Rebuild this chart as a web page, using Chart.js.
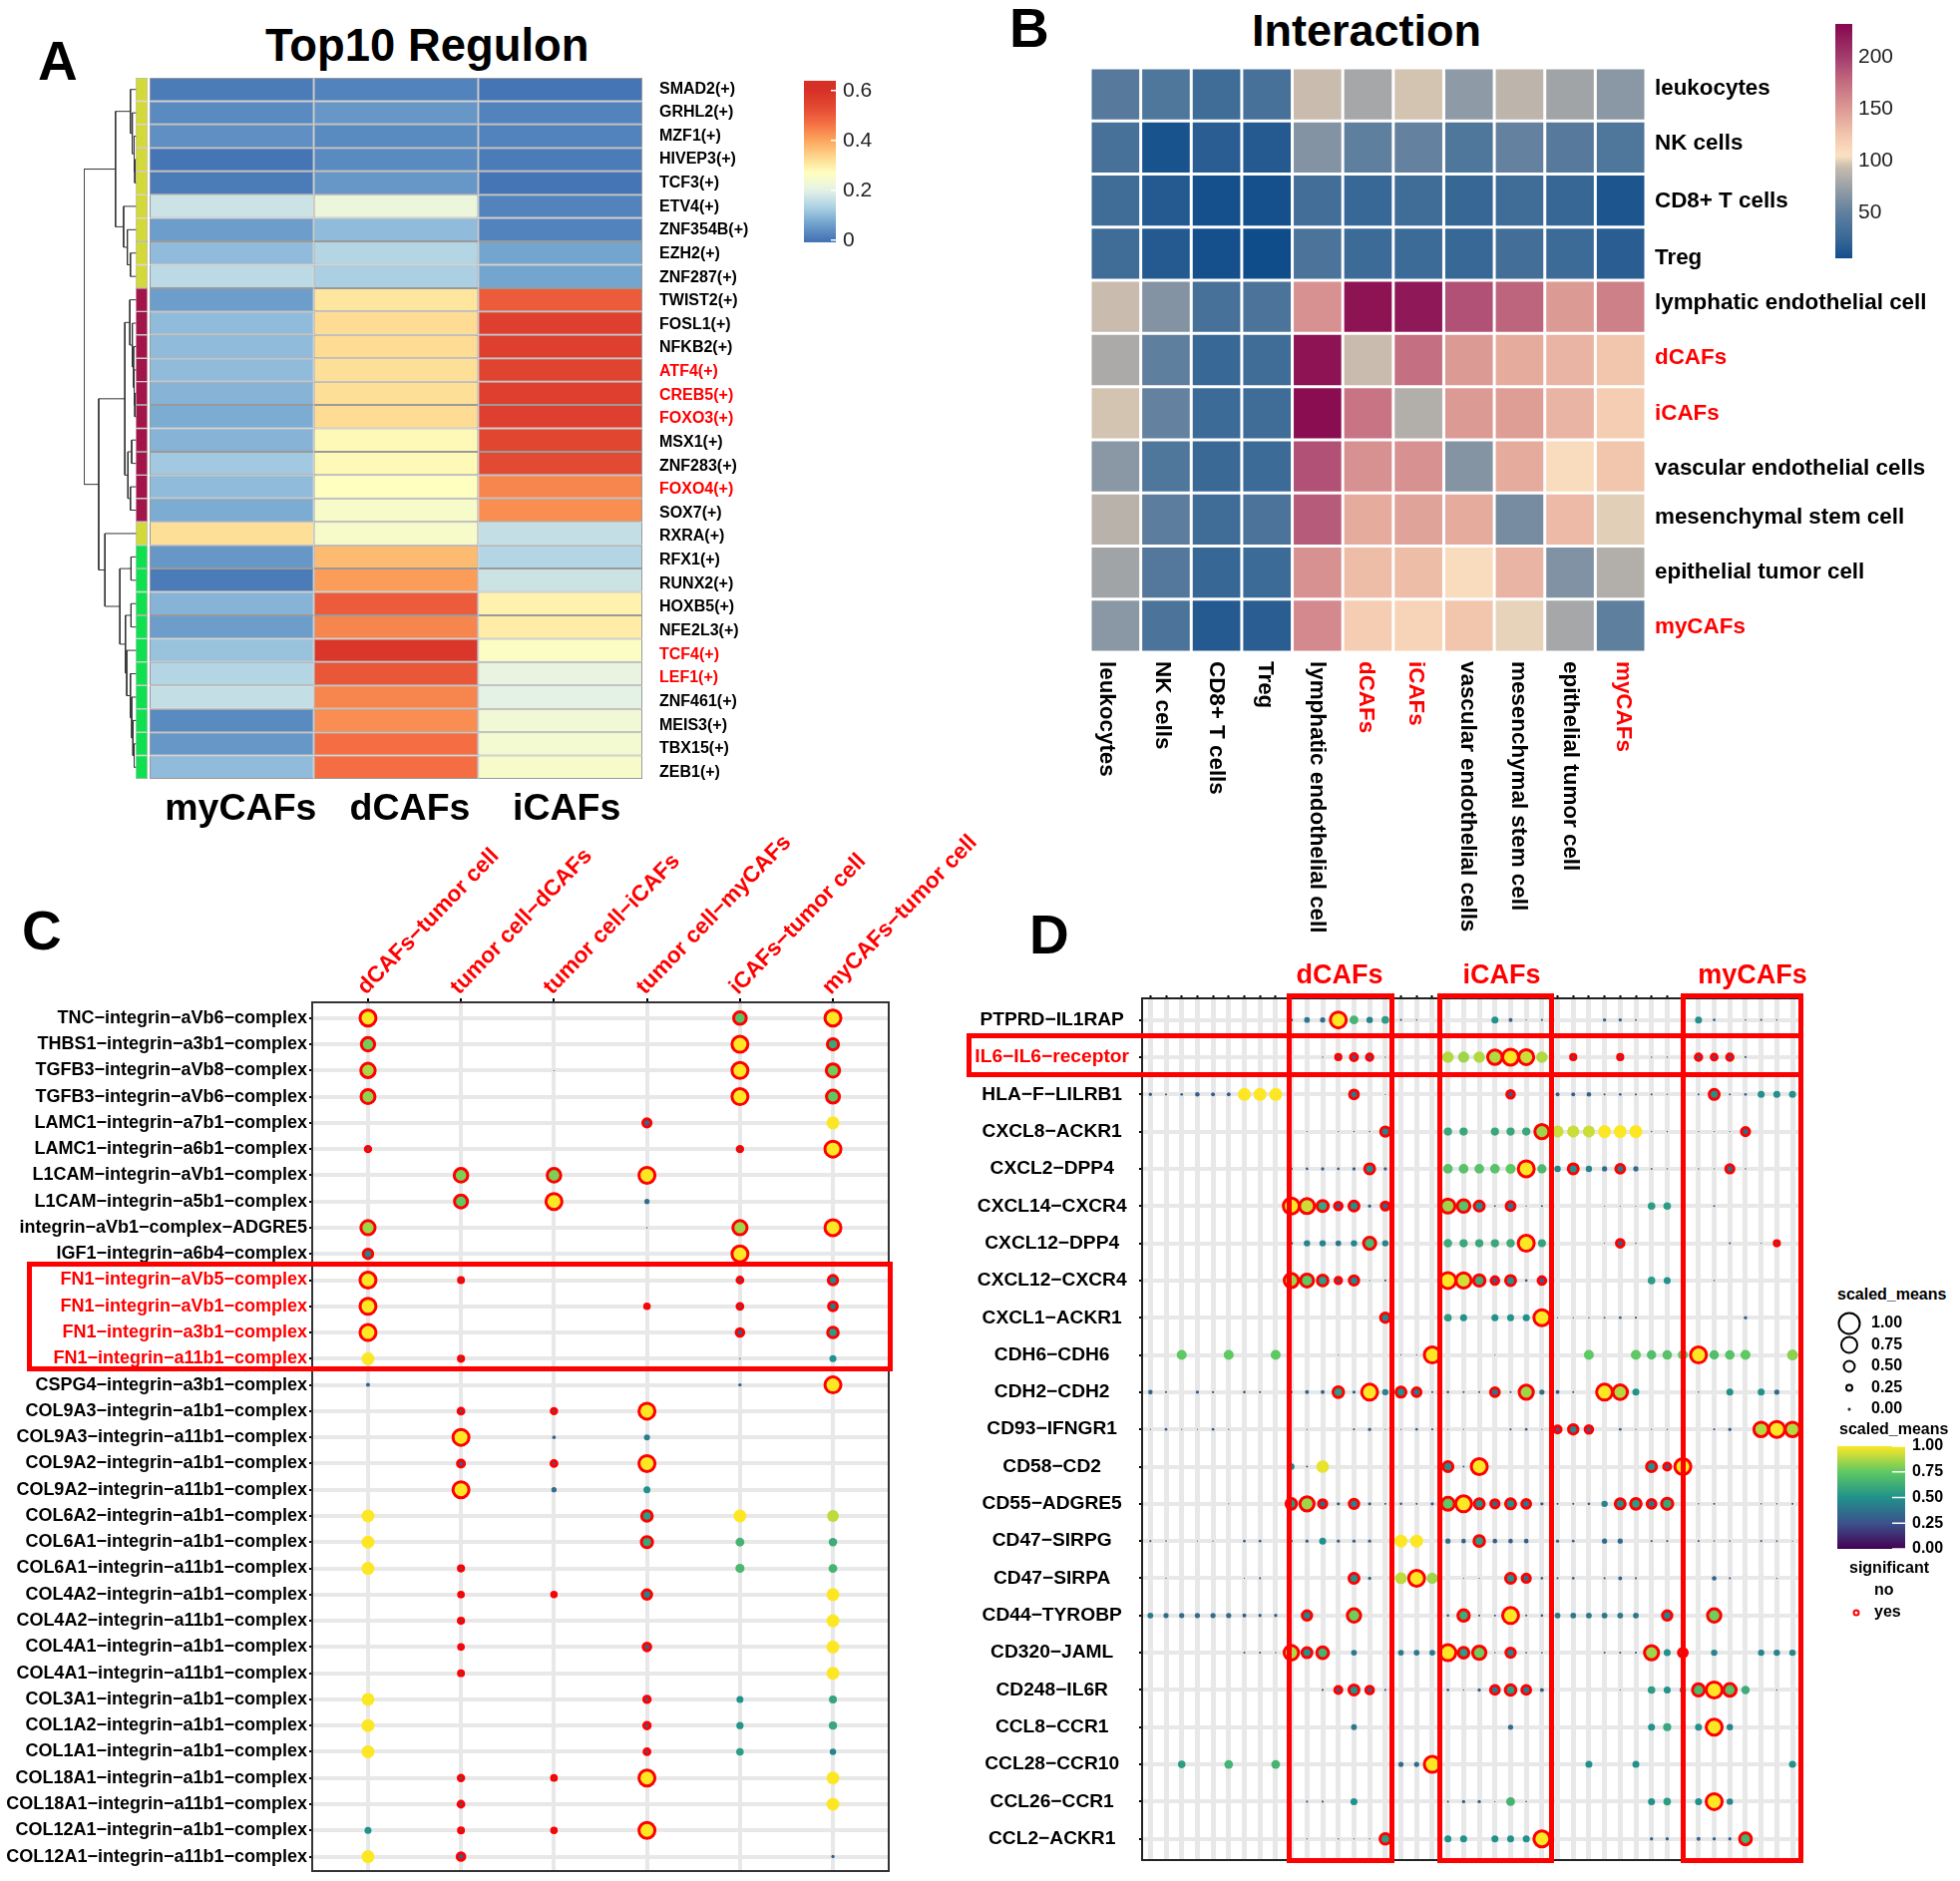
<!DOCTYPE html>
<html><head><meta charset="utf-8">
<script src="https://cdn.jsdelivr.net/npm/chart.js@4"></script>
<style>
html,body{margin:0;padding:0;background:#fff}
#page{position:relative;width:1965px;height:1886px;overflow:hidden;background:#fff;font-family:"Liberation Sans",Arial,sans-serif}
#page canvas{position:absolute}
.t{position:absolute;white-space:nowrap;line-height:1;font-weight:bold;color:#000}
.box{position:absolute;border:5.5px solid #f00;box-sizing:border-box}
</style></head><body><div id="page"></div>
<script>
/* ---------- Panel A data ---------- */
const regulons = ["SMAD2(+)","GRHL2(+)","MZF1(+)","HIVEP3(+)","TCF3(+)","ETV4(+)","ZNF354B(+)","EZH2(+)","ZNF287(+)","TWIST2(+)","FOSL1(+)","NFKB2(+)","ATF4(+)","CREB5(+)","FOXO3(+)","MSX1(+)","ZNF283(+)","FOXO4(+)","SOX7(+)","RXRA(+)","RFX1(+)","RUNX2(+)","HOXB5(+)","NFE2L3(+)","TCF4(+)","LEF1(+)","ZNF461(+)","MEIS3(+)","TBX15(+)","ZEB1(+)"];
const regulonRed = ["ATF4(+)","CREB5(+)","FOXO3(+)","FOXO4(+)","TCF4(+)","LEF1(+)"];
const regulonCols = ["myCAFs","dCAFs","iCAFs"];
const regulonValues = [[.01,.02,0],[.03,.05,.02],[.04,.03,.02],[0,.03,.01],[.01,.05,0],[.17,.22,.02],[.06,.1,.02],[.1,.14,.07],[.15,.13,.07],[.06,.31,.5],[.1,.325,.56],[.1,.325,.56],[.1,.32,.55],[.09,.32,.56],[.08,.325,.56],[.09,.28,.54],[.12,.28,.53],[.1,.27,.44],[.08,.25,.43],[.32,.25,.16],[.05,.37,.14],[.01,.41,.17],[.09,.5,.29],[.06,.44,.3],[.11,.58,.26],[.14,.51,.21],[.16,.44,.2],[.03,.43,.23],[.05,.47,.24],[.1,.47,.25]];
const regulonGroups = ["a","a","a","a","a","a","a","a","a","b","b","b","b","b","b","b","b","b","b","a","c","c","c","c","c","c","c","c","c","c"];
const regulonTree = [85,[34,[10,0,[7,1,[4,2,[3,3,4]]]],[21,5,[15,6,[10,7,8]]]],[61,[19,[11,9,[7,10,[5,11,[4,12,[3,13,14]]]]],[14,[8,15,16],[10,17,18]]],[51,19,[27,[9,20,21],[18,[9,22,23],[16,24,[10,25,[8,26,[6,27,[4,28,29]]]]]]]]]];
const regulonTicks = [0,.2,.4,.6];

/* ---------- Panel B data ---------- */
const cellTypes = ["leukocytes","NK cells","CD8+ T cells","Treg","lymphatic endothelial cell","dCAFs","iCAFs","vascular endothelial cells","mesenchymal stem cell","epithelial tumor cell","myCAFs"];
const cellRed = ["dCAFs","iCAFs","myCAFs"];
const interactionValues = [
[45,40,30,35,95,80,97,70,90,78,68],
[35,10,18,15,65,50,52,40,52,45,40],
[30,15,8,8,32,25,30,24,30,24,12],
[30,15,8,5,38,28,28,25,32,28,18],
[95,65,35,38,155,225,222,190,180,150,165],
[82,50,25,30,225,95,175,150,140,135,125],
[97,52,28,30,228,172,85,150,148,135,120],
[68,40,26,28,190,155,155,66,140,110,125],
[88,48,30,38,185,140,145,140,60,132,100],
[78,42,24,28,155,130,130,110,135,64,85],
[68,38,15,18,160,120,115,125,101,80,50]];
const interactionTicks = [50,100,150,200];

/* ---------- Panel C data: per row, [column, scaled mean, significant] ---------- */
const cCols = ["dCAFs−tumor cell","tumor cell−dCAFs","tumor cell−iCAFs","tumor cell−myCAFs","iCAFs−tumor cell","myCAFs−tumor cell"];
const cRows = ["TNC−integrin−aVb6−complex","THBS1−integrin−a3b1−complex","TGFB3−integrin−aVb8−complex","TGFB3−integrin−aVb6−complex","LAMC1−integrin−a7b1−complex","LAMC1−integrin−a6b1−complex","L1CAM−integrin−aVb1−complex","L1CAM−integrin−a5b1−complex","integrin−aVb1−complex−ADGRE5","IGF1−integrin−a6b4−complex","FN1−integrin−aVb5−complex","FN1−integrin−aVb1−complex","FN1−integrin−a3b1−complex","FN1−integrin−a11b1−complex","CSPG4−integrin−a3b1−complex","COL9A3−integrin−a1b1−complex","COL9A3−integrin−a11b1−complex","COL9A2−integrin−a1b1−complex","COL9A2−integrin−a11b1−complex","COL6A2−integrin−a1b1−complex","COL6A1−integrin−a1b1−complex","COL6A1−integrin−a11b1−complex","COL4A2−integrin−a1b1−complex","COL4A2−integrin−a11b1−complex","COL4A1−integrin−a1b1−complex","COL4A1−integrin−a11b1−complex","COL3A1−integrin−a1b1−complex","COL1A2−integrin−a1b1−complex","COL1A1−integrin−a1b1−complex","COL18A1−integrin−a1b1−complex","COL18A1−integrin−a11b1−complex","COL12A1−integrin−a1b1−complex","COL12A1−integrin−a11b1−complex"];
const cDots = [
[[0,1,1],[4,.72,1],[5,1,1]],
[[0,.78,1],[4,1,1],[5,.6,1]],
[[0,.87,1],[2,.02,0],[4,1,1],[5,.78,1]],
[[0,.83,1],[4,1,1],[5,.75,1]],
[[3,.35,1],[5,1,0]],
[[0,.12,1],[4,.12,1],[5,1,1]],
[[1,.8,1],[2,.8,1],[3,1,1]],
[[1,.75,1],[2,1,1],[3,.35,0]],
[[0,.85,1],[3,.05,0],[4,.85,1],[5,1,1]],
[[0,.45,1],[4,1,1]],
[[0,1,1],[1,.08,1],[4,.15,1],[5,.45,1]],
[[0,1,1],[3,.05,1],[4,.15,1],[5,.4,1]],
[[0,1,1],[4,.3,1],[5,.55,1]],
[[0,1,0],[1,.1,1],[4,.05,0],[5,.5,0]],
[[0,.25,0],[4,.2,0],[5,1,1]],
[[1,.15,1],[2,.12,1],[3,1,1]],
[[1,1,1],[2,.22,0],[3,.42,0]],
[[1,.25,1],[2,.15,1],[3,1,1]],
[[1,1,1],[2,.35,0],[3,.5,0]],
[[0,1,0],[3,.55,1],[4,1,0],[5,.9,0]],
[[0,1,0],[3,.6,1],[4,.65,0],[5,.62,0]],
[[0,1,0],[1,.1,1],[4,.68,0],[5,.65,0]],
[[1,.06,1],[2,.04,1],[3,.45,1],[5,1,0]],
[[1,.1,1],[5,1,0]],
[[1,.06,1],[3,.3,1],[5,1,0]],
[[1,.08,1],[5,1,0]],
[[0,1,0],[3,.2,1],[4,.5,0],[5,.58,0]],
[[0,1,0],[3,.2,1],[4,.52,0],[5,.6,0]],
[[0,1,0],[3,.15,1],[4,.55,0],[5,.45,0]],
[[1,.12,1],[2,.06,1],[3,1,1],[5,1,0]],
[[1,.15,1],[5,1,0]],
[[0,.5,0],[1,.08,1],[2,.05,1],[3,1,1]],
[[0,1,0],[1,.3,1],[5,.2,0]]];

/* ---------- Panel D data: per row, [column, scaled mean, significant] ---------- */
const dRows = ["PTPRD−IL1RAP","IL6−IL6−receptor","HLA−F−LILRB1","CXCL8−ACKR1","CXCL2−DPP4","CXCL14−CXCR4","CXCL12−DPP4","CXCL12−CXCR4","CXCL1−ACKR1","CDH6−CDH6","CDH2−CDH2","CD93−IFNGR1","CD58−CD2","CD55−ADGRE5","CD47−SIRPG","CD47−SIRPA","CD44−TYROBP","CD320−JAML","CD248−IL6R","CCL8−CCR1","CCL28−CCR10","CCL26−CCR1","CCL2−ACKR1"];
const dColumnCount = 42;
const dDots = [
[[9,.2,0],[10,.4,0],[11,.35,0],[12,1,1],[13,.65,0],[14,.45,0],[15,.55,0],[16,.1,0],[17,.05,0],[22,.5,0],[23,.25,0],[24,.03,0],[25,.1,0],[29,.2,0],[30,.2,0],[31,.08,0],[35,.5,0],[36,.15,0],[38,.05,0],[39,.1,0],[40,.05,0]],
[[11,.05,0],[12,.1,1],[13,.25,1],[14,.2,1],[15,.03,0],[19,.88,0],[20,.85,0],[21,.88,0],[22,.88,1],[23,1,1],[24,.92,1],[25,.88,0],[27,.1,1],[30,.1,1],[32,.05,0],[33,.05,0],[35,.2,1],[36,.15,1],[37,.2,1],[38,.1,0]],
[[0,.2,0],[1,.1,0],[2,.15,0],[3,.3,0],[4,.25,0],[5,.25,0],[6,1,0],[7,1,0],[8,1,0],[13,.4,1],[15,.02,0],[23,.3,1],[26,.25,0],[27,.25,0],[28,.3,0],[29,.1,0],[30,.15,0],[31,.1,0],[32,.1,0],[33,.05,0],[35,.1,0],[36,.5,1],[37,.1,0],[38,.15,0],[39,.5,0],[40,.5,0],[41,.5,0]],
[[10,.03,0],[12,.03,0],[13,.05,0],[14,.05,0],[15,.45,1],[19,.6,0],[20,.6,0],[22,.6,0],[23,.6,0],[24,.6,0],[25,.85,1],[26,.92,0],[27,.92,0],[28,.92,0],[29,1,0],[30,1,0],[31,1,0],[32,.05,0],[33,.05,0],[35,.03,0],[36,.03,0],[37,.03,0],[38,.35,1]],
[[9,.15,0],[10,.15,0],[11,.2,0],[12,.15,0],[13,.2,0],[14,.5,1],[15,.2,0],[19,.72,0],[20,.72,0],[21,.72,0],[22,.72,0],[23,.75,0],[24,1,1],[25,.68,0],[26,.45,0],[27,.5,1],[28,.45,0],[29,.35,0],[30,.4,1],[31,.35,0],[32,.08,0],[33,.05,0],[35,.05,0],[36,.03,0],[37,.35,1],[38,.05,0]],
[[9,1,1],[10,.92,1],[11,.6,1],[12,.3,1],[13,.5,1],[14,.2,0],[15,.35,1],[19,.85,1],[20,.72,1],[21,.5,1],[22,.08,0],[23,.4,1],[24,.03,0],[25,.1,0],[29,.02,0],[30,.02,0],[31,.02,0],[32,.55,0],[33,.55,0],[36,.1,0]],
[[9,.2,0],[10,.45,0],[11,.45,0],[12,.4,0],[13,.45,0],[14,.68,1],[15,.45,0],[19,.62,0],[20,.6,0],[21,.6,0],[22,.6,0],[23,.62,0],[24,1,1],[25,.58,0],[29,.03,0],[30,.3,1],[31,.05,0],[37,.1,0],[39,.03,0],[40,.1,1]],
[[9,.85,1],[10,.75,1],[11,.55,1],[12,.2,1],[13,.45,1],[14,.03,0],[15,.1,0],[19,1,1],[20,.93,1],[21,.62,1],[22,.3,1],[23,.5,1],[24,.15,0],[25,.3,1],[32,.55,0],[33,.5,0],[36,.05,0]],
[[15,.45,1],[19,.55,0],[20,.5,0],[22,.5,0],[23,.5,0],[24,.5,0],[25,1,1],[26,.03,0],[27,.03,0],[28,.05,0],[29,.08,0],[30,.15,0],[31,.1,0],[38,.2,0]],
[[2,.75,0],[5,.75,0],[8,.75,0],[12,.02,0],[16,.03,0],[17,.03,0],[18,1,1],[22,.02,0],[28,.75,0],[31,.75,0],[32,.7,0],[33,.72,0],[34,.75,0],[35,1,1],[36,.7,0],[37,.72,0],[38,.75,0],[41,.82,0]],
[[0,.3,0],[1,.1,0],[3,.2,0],[4,.12,0],[6,.15,0],[7,.1,0],[9,.15,0],[10,.25,0],[11,.25,0],[12,.55,1],[13,.2,0],[14,1,1],[15,.45,0],[16,.5,1],[17,.4,1],[18,.1,0],[19,.15,0],[20,.1,0],[21,.1,0],[22,.4,1],[23,.1,0],[24,.85,1],[25,.35,0],[26,.25,0],[27,.1,0],[29,1,1],[30,.88,1],[31,.5,0],[35,.05,0],[37,.5,0],[39,.5,0],[40,.35,0]],
[[0,.03,0],[1,.15,0],[2,.03,0],[3,.02,0],[4,.15,0],[5,.03,0],[10,.03,0],[13,.1,0],[14,.2,0],[15,.02,0],[16,.03,0],[17,.15,0],[18,.1,0],[19,.02,0],[20,.03,0],[23,.1,0],[24,.15,0],[25,.03,0],[26,.25,1],[27,.45,1],[28,.3,1],[30,.15,0],[31,.03,0],[32,.03,0],[33,.05,0],[36,.1,0],[37,.2,0],[39,.88,1],[40,1,1],[41,.88,1]],
[[9,.45,0],[10,.1,0],[11,.97,0],[19,.5,1],[20,.1,0],[21,1,1],[32,.5,1],[33,.25,1],[34,1,1]],
[[5,.02,0],[9,.55,1],[10,.85,1],[11,.35,1],[12,.2,0],[13,.45,1],[14,.2,0],[15,.1,0],[16,.15,0],[17,.1,0],[18,.2,0],[19,.75,1],[20,1,1],[21,.5,1],[22,.35,1],[23,.5,1],[24,.4,1],[25,.2,0],[26,.1,0],[27,.1,0],[28,.15,0],[29,.45,0],[30,.5,1],[31,.55,1],[32,.4,1],[33,.6,1],[35,.05,0],[36,.1,0],[39,.05,0],[40,.05,0],[41,.1,0]],
[[0,.1,0],[1,.05,0],[3,.02,0],[4,.03,0],[6,.15,0],[7,.15,0],[9,.15,0],[10,.2,0],[11,.5,0],[12,.2,0],[13,.2,0],[14,.2,0],[16,1,0],[17,1,0],[19,.35,0],[20,.3,0],[21,.55,1],[22,.3,0],[23,.3,0],[24,.3,0],[26,.2,0],[27,.15,0],[29,.35,0],[30,.35,0],[32,.1,0],[33,.1,0],[35,.1,0],[36,.05,0],[37,.05,0],[39,.1,0],[40,.08,0],[41,.03,0]],
[[1,.02,0],[6,.02,0],[7,.1,0],[13,.5,1],[14,.2,0],[16,.9,0],[17,1,1],[18,.85,0],[20,.02,0],[21,.02,0],[23,.5,1],[24,.35,1],[25,.15,0],[26,.1,0],[27,.15,0],[29,.1,0],[30,.25,0],[31,.1,0],[36,.3,0],[37,.1,0],[40,.03,0]],
[[0,.4,0],[1,.35,0],[2,.35,0],[3,.35,0],[4,.35,0],[5,.35,0],[6,.25,0],[7,.2,0],[8,.2,0],[10,.45,1],[13,.78,1],[19,.15,0],[20,.62,1],[21,.1,0],[22,.1,0],[23,1,1],[24,.1,0],[25,.15,0],[26,.4,0],[27,.4,0],[28,.4,0],[29,.4,0],[30,.4,0],[31,.4,0],[33,.45,1],[36,.78,1]],
[[6,.1,0],[7,.1,0],[8,.05,0],[9,.88,1],[10,.5,1],[11,.65,1],[13,.4,0],[16,.4,0],[17,.4,0],[18,.4,0],[19,1,1],[20,.55,1],[21,.78,1],[22,.05,0],[23,.45,1],[24,.08,0],[25,.08,0],[29,.1,0],[30,.1,0],[31,.1,0],[32,.85,1],[33,.5,0],[34,.4,1],[36,.45,0],[39,.45,0],[40,.45,0],[41,.45,0]],
[[11,.1,0],[12,.25,1],[13,.5,1],[14,.3,1],[15,.1,0],[19,.15,0],[20,.05,0],[21,.2,0],[22,.4,1],[23,.55,1],[24,.4,1],[25,.25,0],[30,.02,0],[32,.55,0],[33,.5,0],[34,.45,0],[35,.68,1],[36,1,1],[37,.72,1],[38,.62,0],[40,.05,0]],
[[13,.4,0],[23,.35,0],[32,.5,0],[33,.6,0],[34,.3,0],[35,.5,0],[36,1,1],[37,.45,0]],
[[2,.55,0],[5,.65,0],[8,.65,0],[16,.35,0],[17,.35,0],[18,1,1],[28,.5,0],[31,.5,0],[41,.5,0]],
[[10,.1,0],[11,.1,0],[13,.5,0],[19,.1,0],[20,.2,0],[21,.2,0],[22,.02,0],[23,.65,0],[24,.05,0],[32,.5,0],[33,.55,0],[34,.3,0],[35,.5,0],[36,1,1],[37,.45,0]],
[[10,.03,0],[12,.05,0],[13,.03,0],[14,.03,0],[15,.55,1],[19,.5,0],[20,.5,0],[22,.5,0],[23,.5,0],[24,.5,0],[25,1,1],[32,.2,0],[33,.2,0],[35,.25,0],[36,.2,0],[37,.2,0],[38,.65,1]]];

/* ---------- Legend data ---------- */
const sizeLegendValues = [1,.75,.5,.25,0];
const colorLegendTicks = [0,.25,.5,.75,1];
const significantLabels = ["no","yes"];

/* ---------- Label placement (hand-set label shifts of the original figure, in pixels) ---------- */
const regulonColShift = [9,14,6.5];
const cellColShift = [-9.5,-3.4,0,-1.6,-1,-2,-3.3,-2,-1,0,2];
const cellRowShift = [-6,-4,1,4,-4,-2,1,2,-2,0,1];

/* ---------- Colour scales ---------- */
function hex(c){return [parseInt(c.slice(1,3),16),parseInt(c.slice(3,5),16),parseInt(c.slice(5,7),16)];}
function ramp(stops){return v=>{
  if(v<=stops[0][0])return stops[0][1];
  for(let i=1;i<stops.length;i++){ if(v<=stops[i][0]){
    const [a,ca]=stops[i-1],[b,cb]=stops[i],t=(v-a)/(b-a),A=hex(ca),B=hex(cb);
    return `rgb(${A.map((x,k)=>Math.round(x+(B[k]-x)*t)).join(',')})`; } }
  return stops[stops.length-1][1];};}
const regulonColor = ramp([[0,"#4575b4"],[.07,"#74a5cf"],[.13,"#abd0e4"],[.2,"#e4f2e6"],[.27,"#ffffbf"],[.33,"#fed98f"],[.4,"#fca55d"],[.47,"#f46d43"],[.53,"#e34a33"],[.6,"#d73027"]]);
const interactionColor = ramp([[5,"#0f4c8a"],[25,"#386896"],[50,"#5f7f9e"],[80,"#a6a7a8"],[95,"#c9bcae"],[105,"#fbe2c2"],[125,"#f2c6ad"],[150,"#dc9a94"],[175,"#c56f82"],[200,"#a33d6e"],[230,"#880a50"]]);
const viridis = ramp([[0,"#440154"],[.25,"#3b528b"],[.5,"#21918c"],[.75,"#5ec962"],[1,"#fde725"]]);
const dotColor = v=>viridis(Math.max(v,.3));
const groupColor = {a:"#d3d93a",b:"#a3154a",c:"#10e050"};
const dotRadius = v=>.5+6*v;

/* ---------- Layout helpers ---------- */
const page=document.getElementById('page');
const RED='#ff0000';
Chart.defaults.font.family='"Liberation Sans",Arial,sans-serif';
Chart.defaults.animation=false;
Chart.defaults.responsive=false;
Chart.defaults.plugins.legend.display=false;
Chart.defaults.plugins.tooltip.enabled=false;
function cv(l,t,r,b){const c=document.createElement('canvas');c.width=r-l;c.height=b-t;c.style.left=l+'px';c.style.top=t+'px';page.appendChild(c);return c;}
function text(s,x,base,size,color,center){const d=document.createElement('div');d.className='t';d.textContent=s;d.style.left=x+'px';d.style.top=(base-.8465*size)+'px';d.style.fontSize=size+'px';if(color)d.style.color=color;if(center)d.style.transform='translateX(-50%)';page.appendChild(d);return d;}
function rbox(l,t,r,b){const d=document.createElement('div');d.className='box';d.style.left=l+'px';d.style.top=t+'px';d.style.width=(r-l)+'px';d.style.height=(b-t)+'px';page.appendChild(d);}
const fixH=h=>ax=>{ax.height=h;ax.paddingLeft=ax.paddingRight=0;ax.paddingTop=ax.paddingBottom=0;};
const fixW=w=>ax=>{ax.width=w;ax.paddingTop=ax.paddingBottom=0;ax.paddingLeft=ax.paddingRight=0;};
const framePlugin=(color,w)=>({id:'frame',beforeDatasetsDraw(ch){const a=ch.chartArea,c=ch.ctx;c.save();c.strokeStyle=color;c.lineWidth=w;c.strokeRect(a.left,a.top,a.right-a.left,a.bottom-a.top);c.restore();}});
const whiteTicks=(len,vals)=>({id:'wt',afterDatasetsDraw(ch){const a=ch.chartArea,c=ch.ctx,s=ch.scales.y;c.save();c.strokeStyle='#fff';c.lineWidth=1.5;vals.forEach(v=>{const y=s.getPixelForValue(v);c.beginPath();c.moveTo(a.right-len,y);c.lineTo(a.right,y);c.stroke();});c.restore();}});

/* heat map as floating bars on a linear x scale and a category y scale;
   its row labels sit on a separate linear axis, yLab */
function heat(canvas,rows,cols,values,color,border,xOpts,labOpts,pad){
  const data=[];rows.forEach((r,i)=>cols.forEach((c,j)=>data.push({x:[j,j+1],y:r,v:values[i][j]})));
  return new Chart(canvas,{type:'bar',data:{labels:rows,datasets:[{data,backgroundColor:c=>color(c.raw.v),borderColor:border.color,borderWidth:border.width,borderSkipped:false,inflateAmount:0,barPercentage:1,categoryPercentage:1}]},
   options:{indexAxis:'y',layout:{padding:pad},scales:{
    x:Object.assign({type:'linear',min:0,max:cols.length,grid:{display:false,drawTicks:false},border:{display:false}},xOpts),
    y:{type:'category',display:false},
    yLab:Object.assign({type:'linear',offset:false,position:'right',reverse:true,grid:{display:false,drawTicks:false},border:{display:false}},labOpts)}}});
}
function colorbar(l,t,r,b,min,max,ticks,color,font,fmt,canvasRight,tick){
  const c=cv(l,t-16,canvasRight,b+16);
  return new Chart(c,{type:'bar',data:{labels:[''],datasets:[{data:[[min,max]],barPercentage:1,categoryPercentage:1,inflateAmount:0,borderSkipped:false,
    backgroundColor:ctx=>{const a=ctx.chart.chartArea;if(!a)return color(min);const g=ctx.chart.ctx.createLinearGradient(0,a.bottom,0,a.top);for(let i=0;i<=60;i++){g.addColorStop(i/60,color(min+(max-min)*i/60));}return g;}}]},
   options:{layout:{padding:{top:16,bottom:16}},scales:{x:{display:false},y:{position:'right',min,max,grid:{display:false,drawTicks:false},border:{display:false},afterBuildTicks:ax=>{ax.ticks=ticks.map(v=>({value:v}));},afterFit:fixW(canvasRight-r),ticks:{autoSkip:false,padding:tick.pad,color:tick.color,font,callback:fmt}}}},
   plugins:[whiteTicks(tick.len,ticks)]});
}
function dotData(rowsDots){const out=[];rowsDots.forEach((row,i)=>row.forEach(([col,v,s])=>out.push({x:col,y:i,r:dotRadius(v)+(s?1.5:0),v,s})));return out;}
const dotStyle={backgroundColor:c=>dotColor(c.raw.v),borderColor:c=>c.raw.s?RED:'rgba(0,0,0,0)',borderWidth:c=>c.raw.s?3:0,hoverBorderWidth:0};

/* ---------- Panel A ---------- */
text('A',38,81,55);
text('Top10 Regulon',266,61.5,45.4);
{ // dendrogram
  const pts=[];
  const walk=n=>{ if(typeof n==='number')return {y:n,h:0};
    const A=walk(n[1]),B=walk(n[2]);
    pts.push({x:A.h,y:A.y},{x:n[0],y:A.y},{x:n[0],y:B.y},{x:B.h,y:B.y},{x:NaN,y:NaN});
    return {y:(A.y+B.y)/2,h:n[0]};};
  walk(regulonTree);
  new Chart(cv(84,78,137,781),{type:'scatter',data:{datasets:[{data:pts,showLine:true,spanGaps:false,borderColor:'#333',borderWidth:1,pointRadius:0,clip:false}]},
   options:{scales:{x:{display:false,reverse:true,min:0,max:85},y:{display:false,reverse:true,min:-.5,max:29.5}}}});
  // annotation strip
  new Chart(cv(136,78,148,781),{type:'bar',data:{labels:regulons,datasets:[{data:regulons.map((r,i)=>({x:[0,1],y:r,g:regulonGroups[i]})),backgroundColor:c=>groupColor[c.raw.g],borderColor:'#a8a8a8',borderWidth:.7,borderSkipped:false,inflateAmount:0,barPercentage:1,categoryPercentage:1}]},
   options:{indexAxis:'y',scales:{x:{display:false,min:0,max:1},y:{display:false}}}});
}
heat(cv(150,62,830,840),regulons,regulonCols,regulonValues,regulonColor,{color:'#9a9a9a',width:1},
 {position:'bottom',afterFit:fixH(840-781),afterBuildTicks:ax=>{ax.ticks=regulonCols.map((c,j)=>({value:j+.5+regulonColShift[j]/164.5}));},
  ticks:{padding:8,color:'#000',font:{size:37.5,weight:'bold'},maxRotation:0,minRotation:0,autoSkip:false,callback:(v,i)=>regulonCols[i]}},
 {min:-.47,max:29.28,afterFit:fixW(830-644),afterBuildTicks:ax=>{ax.ticks=regulons.map((r,i)=>({value:i}));},
  ticks:{autoSkip:false,padding:17,font:{size:16,weight:'bold'},color:c=>regulonRed.includes(c.tick.label)?RED:'#000',callback:(v,i)=>regulons[i]}},
 {top:16});
colorbar(806,81,838,243,-.009,.639,regulonTicks,regulonColor,{size:21},v=>String(v),885,{pad:7,color:'#222',len:5});

/* ---------- Panel B ---------- */
text('B',1012,48,55);
text('Interaction',1255,46,45);
heat(cv(1093,52,1965,960),cellTypes,cellTypes,interactionValues,interactionColor,{color:'#fff',width:1.5},
 {position:'bottom',afterFit:fixH(960-654),beforeUpdate:ax=>{ax._getXAxisLabelAlignment=()=>'left';},afterBuildTicks:ax=>{ax.ticks=cellTypes.map((c,j)=>({value:j+.5+cellColShift[j]/50.6}));},
  ticks:{minRotation:-90,maxRotation:-90,autoSkip:false,padding:9,font:{size:22.4,weight:'bold'},color:c=>cellRed.includes(c.tick.label)?RED:'#000',callback:(v,i)=>cellTypes[i]}},
 {min:-.5,max:10.5,afterFit:fixW(1965-1650),afterBuildTicks:ax=>{ax.ticks=cellTypes.map((c,i)=>({value:i+cellRowShift[i]/53.3}));},
  ticks:{autoSkip:false,padding:9,font:{size:22.4,weight:'bold'},color:c=>cellRed.includes(c.tick.label)?RED:'#000',callback:(v,i)=>cellTypes[i]}},
 {top:16});
colorbar(1840,24,1857,259,6.4,232.4,interactionTicks,interactionColor,{size:21},v=>String(v),1925,{pad:6,color:'#222',len:0});

/* ---------- Panel C ---------- */
text('C',22,953,55);
new Chart(cv(0,780,1010,1892),{type:'bubble',data:{datasets:[Object.assign({data:dotData(cDots)},dotStyle)]},
 options:{layout:{padding:{right:1010-891,bottom:16}},scales:{
  x:{type:'linear',position:'top',min:-.6,max:5.6,afterBuildTicks:ax=>{ax.ticks=cCols.map((c,j)=>({value:j}));},afterFit:fixH(1005-780),
     grid:{color:'#e8e8e8',lineWidth:4,tickColor:'#000',tickWidth:2,tickLength:4},border:{display:false},
     ticks:{minRotation:46,maxRotation:46,autoSkip:false,padding:-2,labelOffset:13,font:{size:22.5,weight:'bold'},color:RED,callback:v=>cCols[v]}},
  y:{type:'linear',reverse:true,min:-.6,max:32.55,afterBuildTicks:ax=>{ax.ticks=cRows.map((c,j)=>({value:j}));},afterFit:fixW(313),
     grid:{color:'#e8e8e8',lineWidth:4,tickColor:'#000',tickWidth:2,tickLength:3},border:{display:false},
     ticks:{autoSkip:false,padding:2,font:{size:18,weight:'bold'},color:c=>String(c.tick.label).startsWith('FN1')?RED:'#000',callback:v=>cRows[v]}}}},
 plugins:[framePlugin('#333',2)]});
rbox(27,1265,895,1375);

/* ---------- Panel D ---------- */
text('D',1032,957,55);
new Chart(cv(960,990,1822,1881),{type:'bubble',data:{datasets:[Object.assign({data:dotData(dDots)},dotStyle)]},
 options:{layout:{padding:{right:16,bottom:16}},scales:{
  x:{type:'linear',position:'top',min:-.53,max:41.57,afterBuildTicks:ax=>{ax.ticks=Array.from({length:dColumnCount},(c,j)=>({value:j}));},afterFit:fixH(10),
     grid:{color:'#e8e8e8',lineWidth:5,tickColor:'#000',tickWidth:2,tickLength:3},border:{display:false},ticks:{display:false,autoSkip:false}},
  y:{type:'linear',reverse:true,min:-.58,max:22.57,afterBuildTicks:ax=>{ax.ticks=dRows.map((c,j)=>({value:j}));},afterFit:fixW(1145-960),
     grid:{color:'#e8e8e8',lineWidth:4,tickColor:'#000',tickWidth:2,tickLength:3},border:{display:false},
     ticks:{autoSkip:false,crossAlign:'center',padding:10,font:{size:19.2,weight:'bold'},color:c=>String(c.tick.label).startsWith('IL6')?RED:'#000',callback:v=>dRows[v]}}}},
 plugins:[framePlugin('#222',2)]});
rbox(1290,996,1398,1868);
rbox(1441,996,1558,1868);
rbox(1685,996,1808,1868);
rbox(969,1036,1808,1080);
text('dCAFs',1343,987,27,RED,true);
text('iCAFs',1505.5,987,27,RED,true);
text('myCAFs',1757,987,27,RED,true);

/* ---------- Panel D legends ---------- */
text('scaled_means',1842,1304,16);
new Chart(cv(1825,1298,1965,1442),{type:'bubble',data:{datasets:[{data:sizeLegendValues.map((v,i)=>({x:0,y:i,r:.5+10*v})),backgroundColor:'#fff',borderColor:'#000',borderWidth:2,clip:false}]},
 options:{layout:{padding:{left:17,top:16,bottom:16}},scales:{x:{display:false,min:-.5,max:.5},y:{type:'linear',position:'right',reverse:true,min:-.6,max:4.6,grid:{display:false,drawTicks:false},border:{display:false},afterBuildTicks:ax=>{ax.ticks=sizeLegendValues.map((v,i)=>({value:i}));},afterFit:fixW(1965-1866),
   ticks:{autoSkip:false,padding:10,font:{size:16,weight:'bold'},color:'#000',callback:v=>sizeLegendValues[v].toFixed(2)}}}}});
text('scaled_means',1844,1439,16);
colorbar(1842,1450,1910,1553,0,1,colorLegendTicks,viridis,{size:16,weight:'bold'},v=>v.toFixed(2),1965,{pad:7,color:'#000',len:13});
text('significant',1894,1578,16,'#000',true);
new Chart(cv(1835,1568,1965,1644),{type:'bubble',data:{labels:significantLabels,datasets:[{data:[{x:0,y:'yes',r:2.5}],backgroundColor:'#fff',borderColor:RED,borderWidth:2}]},
 options:{layout:{padding:{left:17,top:16,bottom:16}},scales:{x:{display:false,min:-.5,max:.5},y:{type:'category',labels:significantLabels,offset:true,position:'right',grid:{display:false,drawTicks:false},border:{display:false},afterFit:fixW(1965-1870),
   ticks:{autoSkip:false,padding:9,font:{size:16,weight:'bold'},color:'#000'}}}}});
</script></body></html>
